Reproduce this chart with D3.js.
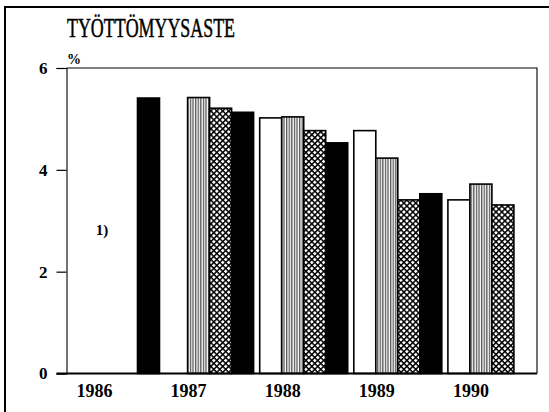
<!DOCTYPE html>
<html>
<head>
<meta charset="utf-8">
<script src="https://cdn.jsdelivr.net/npm/d3@7"></script>
<style>
  html, body { margin: 0; padding: 0; background: #fff; }
  svg { display: block; }
  text { font-family: "Liberation Serif", "Times New Roman", serif; fill: #000; }
</style>
</head>
<body>
<svg id="chart" width="549" height="412"></svg>
<script>
// Unemployment rate by quarter, 1986–1990 (%)
const years = ["1986", "1987", "1988", "1989", "1990"];
const quarters = ["Q1", "Q2", "Q3", "Q4"];
const q1 = [null, null, 5.02, 4.77, 3.41];
const q2 = [null, 5.42, 5.04, 4.23, 3.72];
const q3 = [null, 5.21, 4.77, 3.41, 3.31];
const q4 = [5.41, 5.13, 4.53, 3.53, null];
const yTicks = [0, 2, 4, 6];
const title = "TYÖTTÖMYYSASTE";
const unit = "%";
const footnote = "1)";

const series = [q1, q2, q3, q4];
const fills = ["#fff", "url(#vhatch)", "url(#xhatch)", "#000"];

const svg = d3.select("#chart");

// fill patterns
const defs = svg.append("defs");
const vh = defs.append("pattern").attr("id", "vhatch")
  .attr("patternUnits", "userSpaceOnUse").attr("width", 2.6).attr("height", 10);
vh.append("rect").attr("width", 2.6).attr("height", 10).attr("fill", "#fff");
vh.append("line").attr("x1", 0.7).attr("x2", 0.7).attr("y1", 0).attr("y2", 10)
  .attr("stroke", "#222").attr("stroke-width", 1);
const xh = defs.append("pattern").attr("id", "xhatch")
  .attr("patternUnits", "userSpaceOnUse").attr("width", 4.2).attr("height", 4.2)
  .attr("patternTransform", "rotate(45)");
xh.append("rect").attr("width", 4.2).attr("height", 4.2).attr("fill", "#fff");
xh.append("line").attr("x1", 0).attr("x2", 4.2).attr("y1", 0.7).attr("y2", 0.7)
  .attr("stroke", "#000").attr("stroke-width", 1.6);
xh.append("line").attr("y1", 0).attr("y2", 4.2).attr("x1", 0.7).attr("x2", 0.7)
  .attr("stroke", "#000").attr("stroke-width", 1.6);

// outer frame
svg.append("rect").attr("x", 5).attr("y", 7).attr("width", 600).attr("height", 450)
  .attr("fill", "none").attr("stroke", "#000").attr("stroke-width", 2);

const plotL = 66.5, plotR = 537, plotT = 68, plotB = 373.5;

const x = d3.scaleBand().domain(years).range([plotL, plotR]).paddingInner(0).paddingOuter(0);
const barW = 22, barOff = 5;
const y = d3.scaleLinear().domain([0, 6]).range([plotB, plotT]);

// plot box (top, right)
svg.append("path")
  .attr("d", `M${plotL},${plotT}H${plotR}V${plotB}`)
  .attr("fill", "none").attr("stroke", "#000").attr("stroke-width", 1.1);

// bars
series.forEach((vals, qi) => {
  svg.append("g").selectAll("rect")
    .data(years.map((yr, i) => ({ yr, v: vals[i] })).filter(d => d.v != null))
    .join("rect")
    .attr("x", d => x(d.yr) + barOff + qi * barW)
    .attr("y", d => y(d.v))
    .attr("width", barW)
    .attr("height", d => y(0) - y(d.v))
    .attr("fill", fills[qi])
    .attr("stroke", "#000")
    .attr("stroke-width", 1.6);
});

// y axis
const yAxis = d3.axisLeft(y).tickValues(yTicks).tickSize(10).tickFormat(d3.format("d"));
const ya = svg.append("g").attr("transform", `translate(${plotL},0)`).call(yAxis);
ya.select(".domain").attr("stroke-width", 1.1);
ya.selectAll(".tick line").attr("stroke-width", 1.2);
ya.selectAll("text")
  .attr("x", -19)
  .style("font-size", "17px").style("font-weight", "bold")
  .style("font-family", "'Liberation Serif', serif");

// x axis baseline
svg.append("line").attr("x1", plotL - 10).attr("x2", plotR)
  .attr("y1", plotB).attr("y2", plotB)
  .attr("stroke", "#000").attr("stroke-width", 1.8);

// year labels
svg.append("g").selectAll("text").data(years).join("text")
  .attr("x", d => x(d) + barOff + barW + 1)
  .attr("y", 396.5)
  .attr("text-anchor", "middle")
  .style("font-size", "18px").style("font-weight", "bold")
  .text(d => d);

// title
svg.append("text").attr("x", 67).attr("y", 37)
  .attr("textLength", 168).attr("lengthAdjust", "spacingAndGlyphs")
  .style("font-size", "27px").style("font-weight", "normal")
  .attr("stroke", "#000").attr("stroke-width", 0.5)
  .text(title);

// unit
svg.append("text").attr("x", 74).attr("y", 63.5)
  .attr("text-anchor", "middle")
  .style("font-size", "14px").style("font-weight", "bold")
  .text(unit);

// footnote marker
svg.append("text").attr("x", 102).attr("y", 235)
  .attr("text-anchor", "middle")
  .style("font-size", "15px").style("font-weight", "bold")
  .text(footnote);
</script>
</body>
</html>
